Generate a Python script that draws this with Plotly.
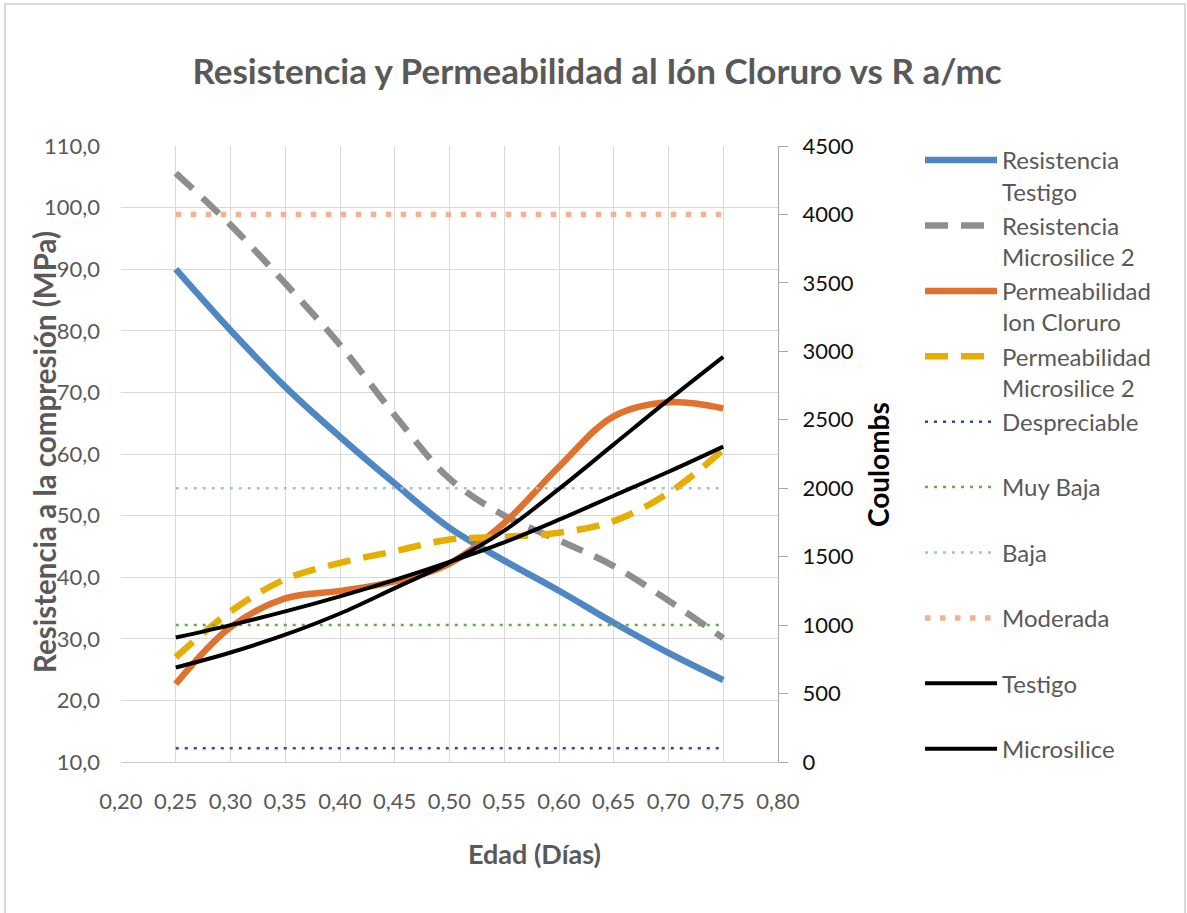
import plotly.graph_objects as go

# Relación agua/material cementante (eje X)
r_amc = [0.25, 0.30, 0.35, 0.40, 0.45, 0.50, 0.55, 0.60, 0.65, 0.70, 0.75]

# Resistencia a la compresión (MPa) - eje izquierdo
resistencia_testigo = [90.0, 80.1, 70.9, 62.8, 55.2, 48.0, 42.7, 37.8, 32.6, 27.7, 23.3]
resistencia_microsilice = [105.6, 97.2, 87.7, 77.7, 66.3, 56.0, 50.0, 46.0, 41.8, 36.2, 30.1]

# Permeabilidad al ión cloruro (Coulombs) - eje derecho
permeabilidad_ion = [570, 985, 1195, 1250, 1320, 1450, 1746, 2157, 2525, 2628, 2583]
permeabilidad_microsilice = [765, 1100, 1335, 1455, 1540, 1625, 1645, 1675, 1760, 1965, 2280]

# Tendencias de permeabilidad
tendencia_testigo = [909, 1000, 1100, 1210, 1330, 1462, 1605, 1770, 1945, 2120, 2304]
tendencia_microsilice = [690, 800, 930, 1085, 1270, 1458, 1690, 1995, 2320, 2645, 2960]

# Umbrales de penetrabilidad (Coulombs)
umbral_x = [0.25, 0.75]
umbrales = {
    "Despreciable": 100,
    "Muy Baja": 1000,
    "Baja": 2000,
    "Moderada": 4000,
}

FONT = "Lato"
GRIS = "#595959"
PAD = "<br>\u00a0"

fig = go.Figure()

fig.add_trace(go.Scatter(
    x=r_amc, y=resistencia_testigo, name="Resistencia<br>Testigo",
    mode="lines", line=dict(color="#4F87C4", width=6.5, shape="spline"), yaxis="y"))
fig.add_trace(go.Scatter(
    x=r_amc, y=resistencia_microsilice, name="Resistencia<br>Microsilice 2",
    mode="lines", line=dict(color="#8E8E8E", width=6.5, shape="spline", dash="23px,13px"), yaxis="y"))
fig.add_trace(go.Scatter(
    x=r_amc, y=permeabilidad_ion, name="Permeabilidad<br>Ion Cloruro",
    mode="lines", line=dict(color="#E0722E", width=6.5, shape="spline"), yaxis="y2"))
fig.add_trace(go.Scatter(
    x=r_amc, y=permeabilidad_microsilice, name="Permeabilidad<br>Microsilice 2",
    mode="lines", line=dict(color="#E5AE00", width=6.5, shape="spline", dash="23px,13px"), yaxis="y2"))

estilos_umbral = {
    "Despreciable": dict(color="#2E4D8F", width=2.5, dash="3px,6px"),
    "Muy Baja": dict(color="#6AA84F", width=2.5, dash="3px,6px"),
    "Baja": dict(color="#9DC3E6", width=2.5, dash="3px,6px"),
    "Moderada": dict(color="#F4B193", width=5.5, dash="5.5px,9.5px"),
}
for nombre, valor in umbrales.items():
    fig.add_trace(go.Scatter(
        x=umbral_x, y=[valor, valor], name=nombre + PAD,
        mode="lines", line=estilos_umbral[nombre], yaxis="y2"))

fig.add_trace(go.Scatter(
    x=r_amc, y=tendencia_testigo, name="Testigo" + PAD,
    mode="lines", line=dict(color="#000000", width=4, shape="spline"), yaxis="y2"))
fig.add_trace(go.Scatter(
    x=r_amc, y=tendencia_microsilice, name="Microsilice" + PAD,
    mode="lines", line=dict(color="#000000", width=4, shape="spline"), yaxis="y2"))

W, H = 1187, 913
L, R, T, B = 121, 778, 146, 762


def px(x):
    return (x - L) / (R - L)


def py(y):
    return (B - y) / (B - T)


fig.update_layout(
    width=W, height=H,
    margin=dict(l=L, r=W - R, t=T, b=H - B),
    paper_bgcolor="white", plot_bgcolor="white",
    separators=",.",
    font=dict(family=FONT, color=GRIS, size=22),
    title=dict(
        text="<b>Resistencia y Permeabilidad al Ión Cloruro vs R a/mc</b>",
        x=0.503, xanchor="center", y=1 - 72 / H, yanchor="middle",
        font=dict(family=FONT, size=35, color=GRIS)),
    xaxis=dict(
        range=[0.2, 0.8], tick0=0.2, dtick=0.05, tickformat=".2f",
        showgrid=True, gridcolor="#D9D9D9", gridwidth=1,
        showline=True, linecolor="#C8C8C8", linewidth=1,
        zeroline=False, ticks="", ticklabelstandoff=20,
        tickfont=dict(family=FONT, size=22, color=GRIS)),
    yaxis=dict(
        range=[10, 110], tick0=10, dtick=10, tickformat=".1f",
        showgrid=True, gridcolor="#D9D9D9", gridwidth=1,
        showline=False, zeroline=False, ticks="", ticklabelstandoff=20,
        tickfont=dict(family=FONT, size=22, color=GRIS)),
    yaxis2=dict(
        overlaying="y", side="right",
        range=[0, 4500], tick0=0, dtick=500, tickformat="d",
        showgrid=False, zeroline=False,
        showline=True, linecolor="#A6A6A6", linewidth=1,
        ticks="outside", ticklen=9, tickcolor="#A6A6A6", ticklabelstandoff=10,
        tickfont=dict(family=FONT, size=22, color="#111111")),
    legend=dict(
        x=px(920), xanchor="left", y=py(138), yanchor="top",
        valign="top", itemwidth=72,
        font=dict(family=FONT, size=24, color=GRIS),
        bgcolor="rgba(0,0,0,0)", borderwidth=0),
    showlegend=True,
)

# La leyenda ocupa casi todo el alto del gráfico
try:
    fig.update_layout(legend_maxheight=720)
except ValueError:
    fig.update_layout(legend_font_size=22.5)

# Títulos de los ejes
fig.add_annotation(
    text="<b>Resistencia a la compresión (MPa)</b>", textangle=-90,
    xref="paper", yref="paper", x=px(44), y=py(452),
    xanchor="center", yanchor="middle", showarrow=False,
    font=dict(family=FONT, size=29.5, color=GRIS))
fig.add_annotation(
    text="<b>Coulombs</b>", textangle=-90,
    xref="paper", yref="paper", x=px(878), y=py(465),
    xanchor="center", yanchor="middle", showarrow=False,
    font=dict(family=FONT, size=28, color="#000000"))
fig.add_annotation(
    text="<b>Edad (Días)</b>",
    xref="paper", yref="paper", x=px(534), y=py(853),
    xanchor="center", yanchor="middle", showarrow=False,
    font=dict(family=FONT, size=27, color=GRIS))

# Marco exterior del gráfico
fig.add_shape(
    type="rect", xref="paper", yref="paper",
    x0=px(5), x1=px(1185), y0=py(916), y1=py(4),
    line=dict(color="#D9D9D9", width=2), layer="below")

fig.write_html("out.html")
